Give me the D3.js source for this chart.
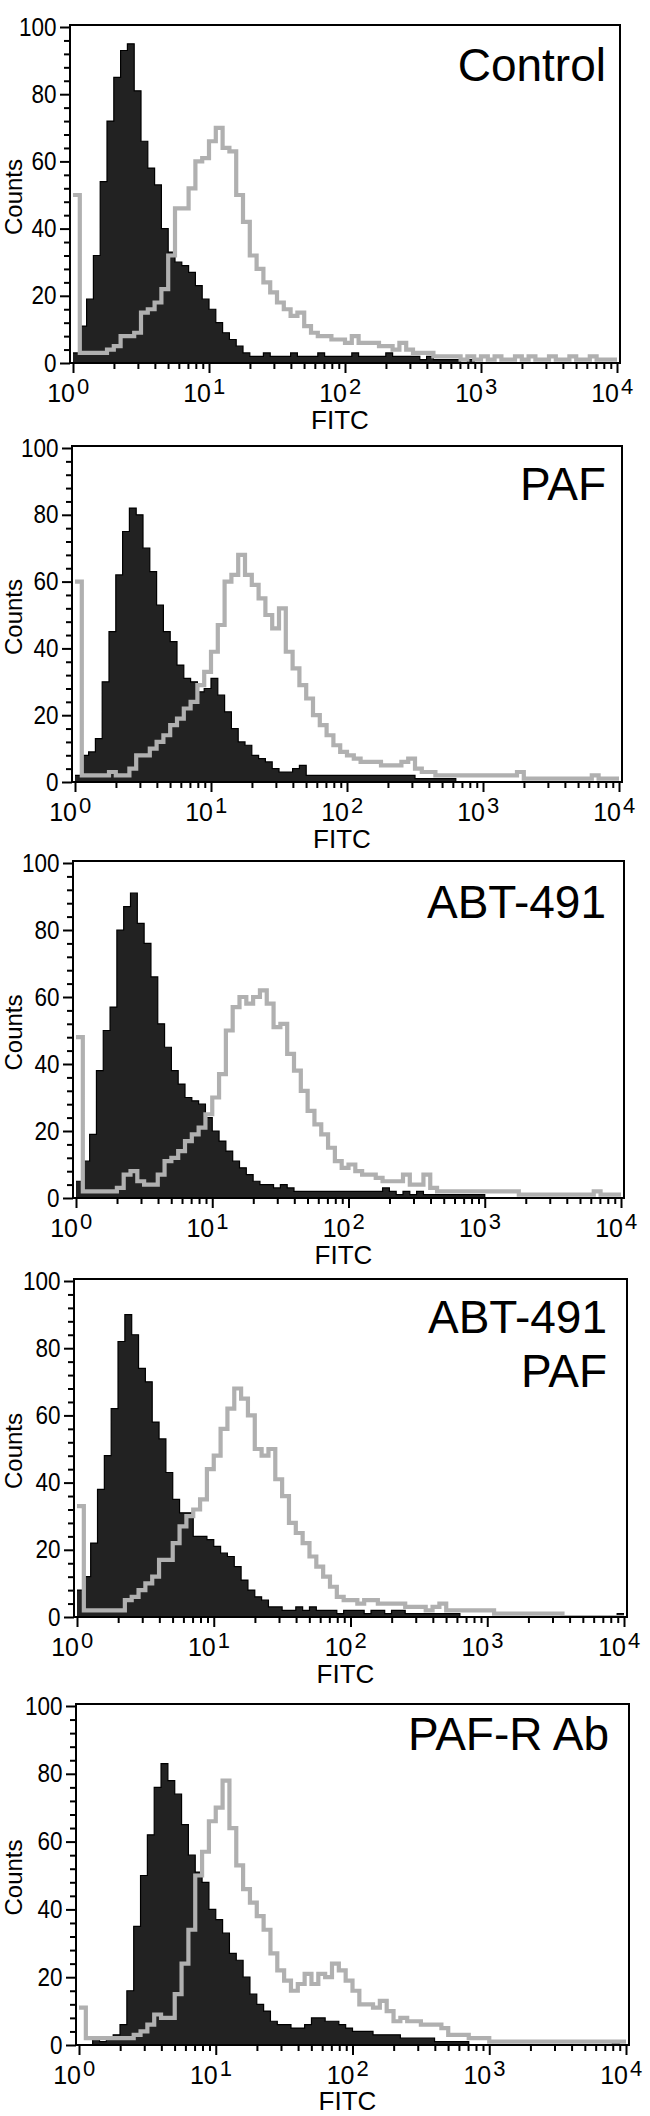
<!DOCTYPE html>
<html>
<head>
<meta charset="utf-8">
<script src="https://cdn.jsdelivr.net/npm/d3@7"></script>
<style>
  html, body { margin: 0; padding: 0; background: #fff; }
  svg { display: block; }
  text { font-family: "Liberation Sans", Arial, Helvetica, sans-serif; fill: #000; }
</style>
</head>
<body>
<svg id="chart"></svg>
<script>
// counts per channel, 20 channels per decade from 10^0 to 10^4 (80 channels)
const controlBlack = [3,11,19,32,54,72,85,93,95,81, 66,58,53,40,33,30,29,27,23,19, 16,12,9,7,5,3,2,2,3,2, 2,2,3,2,2,2,3,2,2,2,
                      2,3,2,2,2,2,3,2,2,2, 2,1,2,1,1,1,1,0,1,0, 0,0,0,0,0,0,0,0,0,0, 0,0,0,0,0,0,0,0,0,0];
const controlGray  = [50,3,3,3,3,4,5,8,8,9, 15,16,18,22,32,46,46,52,60,61, 66,70,64,63,50,42,32,28,24,21, 18,16,14,15,11,9,8,8,7,7,
                      6,8,6,6,6,5,5,4,6,4, 3,3,3,2,2,2,2,1,2,1, 2,1,2,1,1,2,1,2,1,1, 2,1,1,2,1,1,2,1,1,1];

const pafBlack = [2,8,9,13,30,45,62,75,82,80, 70,63,53,45,42,35,31,30,27,28, 31,26,21,16,12,11,8,7,6,4, 3,3,4,5,2,2,2,2,2,2,
                  2,2,2,2,2,2,2,2,2,2, 1,1,1,1,1,1,0,0,0,0, 0,0,0,0,0,0,0,0,0,0, 0,0,0,0,0,0,0,0,0,0];
const pafGray  = [60,2,2,2,2,3,2,2,4,8, 8,10,12,14,17,19,22,24,29,33, 39,47,60,62,68,62,59,55,50,46, 52,39,34,29,25,20,17,14,11,9,
                  8,7,6,6,6,5,5,5,6,7, 4,3,3,2,2,2,2,2,2,2, 2,2,2,2,2,3,1,1,1,1, 1,1,1,1,1,1,2,1,1,1];

const abtBlack = [5,11,19,38,50,57,80,87,91,82, 76,66,52,45,38,34,30,29,28,24, 20,17,14,11,9,7,5,4,4,3, 4,3,2,2,2,2,2,2,2,2,
                  2,2,2,2,2,3,2,1,2,1, 2,1,1,1,1,1,1,1,1,1, 0,0,0,0,0,0,0,0,0,0, 0,0,0,0,0,0,0,0,0,0];
const abtGray  = [48,2,2,2,2,2,3,7,8,5, 4,4,7,11,12,14,17,19,21,25, 30,37,50,57,60,58,60,62,58,51, 52,43,38,32,26,22,19,15,11,9,
                  10,8,7,7,6,5,5,5,7,4, 4,7,3,2,2,2,2,2,2,2, 2,2,2,2,2,1,1,1,1,1, 1,1,1,1,1,1,2,1,1,1];

const abtPafBlack = [8,12,22,38,48,62,82,90,84,74, 70,58,53,43,35,31,31,24,24,23, 21,19,18,15,11,8,6,5,3,3, 2,2,3,2,3,2,2,2,1,2,
                     2,2,1,2,2,1,2,2,1,1, 1,1,1,1,1,1,0,0,0,0, 0,0,0,0,0,0,0,0,0,0, 0,0,0,0,0,0,0,0,0,1];
const abtPafGray  = [33,2,2,2,2,2,2,5,6,8, 10,12,17,17,22,27,30,32,35,44, 48,56,62,68,65,60,50,48,50,41, 36,28,25,22,18,15,12,9,6,5,
                     5,4,5,5,4,4,4,4,3,3, 3,2,3,4,2,2,2,2,2,2, 2,1,1,1,1,1,1,1,1,1, 1,0,0,0,0,0,0,0,0,0];

const pafrBlack = [0,0,2,1,2,3,6,16,35,50, 62,76,83,78,74,65,56,51,48,40, 37,33,27,25,20,15,12,10,7,6, 6,5,5,6,8,8,7,7,6,5,
                   4,4,4,3,3,3,3,2,2,2, 2,2,1,1,1,1,1,0,0,0, 0,0,0,0,0,0,0,0,0,0, 0,0,0,0,0,0,0,0,1,0];
const pafrGray  = [11,2,2,2,2,2,2,2,3,4, 6,9,8,8,15,24,34,50,57,66, 70,78,64,53,46,42,38,34,27,22, 19,16,18,21,18,21,20,24,22,19,
                   16,12,12,11,13,10,7,8,7,7, 6,6,6,5,3,3,3,2,2,2, 1,1,1,1,1,1,1,1,1,1, 1,1,1,1,1,1,1,1,1,1];

const panelNames = [["Control"], ["PAF"], ["ABT-491"], ["ABT-491", "PAF"], ["PAF-R Ab"]];
const blackSeries = [controlBlack, pafBlack, abtBlack, abtPafBlack, pafrBlack];
const graySeries = [controlGray, pafGray, abtGray, abtPafGray, pafrGray];

const yMajor = [0, 20, 40, 60, 80, 100];
const yMinor = [4, 8, 12, 16, 24, 28, 32, 36, 44, 48, 52, 56, 64, 68, 72, 76, 84, 88, 92, 96];
const decades = [1, 10, 100, 1000, 10000];
const exponents = ["0", "1", "2", "3", "4"];
const xMinor = [1, 10, 100, 1000].flatMap(d => [2, 3, 4, 5, 6, 7, 8, 9].map(k => d * k));

// where each panel sits on the page (pixel of 10^0 / 10^4 and of count 100 / 0)
const layout = [
    { x0: 73, x1: 617, yTop: 27,   yBot: 363,  labelX: 606, labelY: [81] },
    { x0: 75, x1: 619, yTop: 448,  yBot: 782,  labelX: 606, labelY: [500] },
    { x0: 76, x1: 621, yTop: 863,  yBot: 1198, labelX: 606, labelY: [918] },
    { x0: 77, x1: 624, yTop: 1281, yBot: 1617, labelX: 607, labelY: [1333, 1387] },
    { x0: 79, x1: 626, yTop: 1706, yBot: 2045, labelX: 609, labelY: [1750] }
];

const svg = d3.select("#chart")
    .attr("width", 650)
    .attr("height", 2116);

// channel edges on the FITC axis
const edges = d3.range(81).map(i => Math.pow(10, i / 20));

layout.forEach((p, k) => {
    const x = d3.scaleLog().domain([1, 10000]).range([p.x0, p.x1]);
    const y = d3.scaleLinear().domain([0, 100]).range([p.yBot, p.yTop]);

    const g = svg.append("g");

    const clipId = "clip" + k;
    g.append("clipPath").attr("id", clipId)
        .append("rect")
        .attr("x", p.x0 - 3).attr("y", p.yTop - 2)
        .attr("width", p.x1 - p.x0 + 6).attr("height", p.yBot - p.yTop + 2);

    const steps = vals => edges.map((e, i) => ({ v: e, c: Math.min(vals[Math.min(i, vals.length - 1)], 100) }));

    const area = d3.area()
        .x(d => x(d.v))
        .y0(y(0))
        .y1(d => y(d.c))
        .curve(d3.curveStepAfter);
    const line = d3.line()
        .x(d => x(d.v))
        .y(d => y(d.c))
        .curve(d3.curveStepAfter);

    const plot = g.append("g").attr("clip-path", `url(#${clipId})`);

    // filled histogram
    plot.append("path")
        .datum(steps(blackSeries[k]))
        .attr("d", area)
        .attr("fill", "#222");
    plot.append("path")
        .datum(steps(blackSeries[k]))
        .attr("d", line)
        .attr("fill", "none")
        .attr("stroke", "#000")
        .attr("stroke-width", 1.2);

    // open histogram on top
    plot.append("path")
        .datum(steps(graySeries[k]))
        .attr("d", line)
        .attr("fill", "none")
        .attr("stroke", "#b0b0b0")
        .attr("stroke-width", 4.2);

    // frame
    g.append("rect")
        .attr("x", p.x0 - 3).attr("y", p.yTop - 2)
        .attr("width", p.x1 - p.x0 + 6).attr("height", p.yBot - p.yTop + 2)
        .attr("fill", "none")
        .attr("stroke", "#000")
        .attr("stroke-width", 2);

    // y axis
    const yAxis = g.append("g")
        .attr("transform", `translate(${p.x0 - 3},0)`)
        .call(d3.axisLeft(y).tickValues(yMajor).tickSize(10).tickPadding(5));
    yAxis.append("g")
        .call(d3.axisLeft(y).tickValues(yMinor).tickSize(6).tickFormat(""));
    yAxis.selectAll(".domain").remove();
    yAxis.selectAll("line").attr("stroke", "#000").attr("stroke-width", 2);
    yAxis.selectAll("text")
        .attr("font-size", 25)
        .attr("font-family", "Liberation Sans, Arial, sans-serif")
        .attr("transform", "scale(0.9,1)");

    // x axis
    const xAxis = g.append("g")
        .attr("transform", `translate(0,${p.yBot})`)
        .call(d3.axisBottom(x).tickValues(decades).tickSize(10).tickFormat(""));
    xAxis.append("g")
        .call(d3.axisBottom(x).tickValues(xMinor).tickSize(6).tickFormat(""));
    xAxis.selectAll(".domain").remove();
    xAxis.selectAll("line").attr("stroke", "#000").attr("stroke-width", 2);

    decades.forEach((d, i) => {
        g.append("text")
            .attr("x", x(d) + 2)
            .attr("y", p.yBot + 39)
            .attr("text-anchor", "end")
            .attr("font-size", 25)
            .text("10");
        g.append("text")
            .attr("x", x(d) + 4)
            .attr("y", p.yBot + 31)
            .attr("font-size", 22)
            .text(exponents[i]);
    });

    g.append("text")
        .attr("x", (p.x0 + p.x1) / 2 - 5)
        .attr("y", Math.min(p.yBot + 66, 2110))
        .attr("text-anchor", "middle")
        .attr("font-size", 26)
        .text("FITC");

    g.append("text")
        .attr("transform", `translate(22,${y(50) + 2}) rotate(-90)`)
        .attr("text-anchor", "middle")
        .attr("font-size", 24)
        .text("Counts");

    panelNames[k].forEach((name, j) => {
        g.append("text")
            .attr("x", p.labelX)
            .attr("y", p.labelY[j])
            .attr("text-anchor", "end")
            .attr("font-size", 46)
            .text(name);
    });
});
</script>
</body>
</html>
